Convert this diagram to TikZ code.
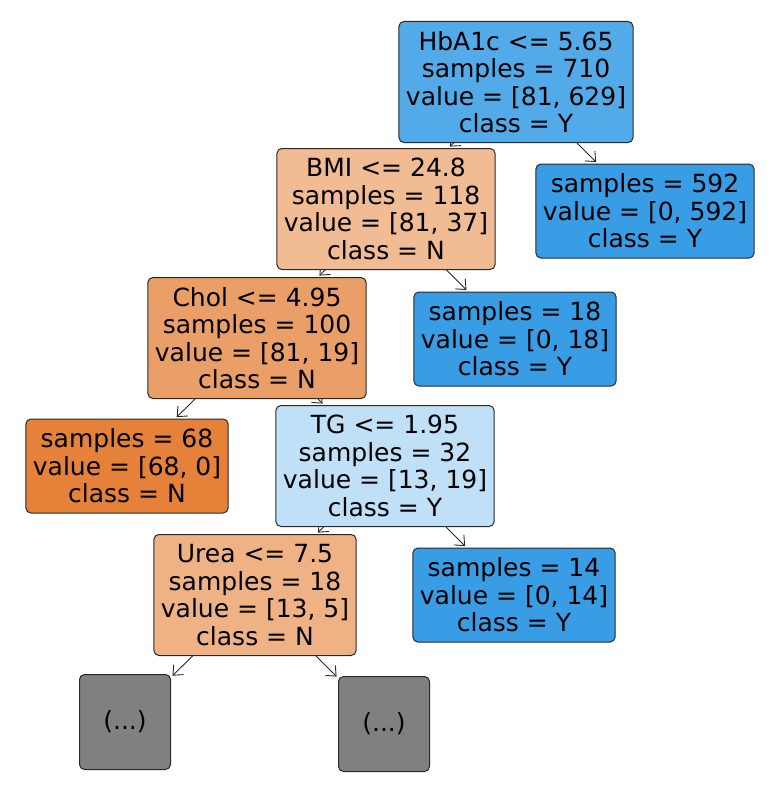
\documentclass[tikz,border=0pt]{standalone}
\usepackage{fontspec}
\setmainfont{DejaVu Sans}
\usetikzlibrary{arrows.meta,backgrounds}
\definecolor{classY}{RGB}{57,157,229}
\definecolor{classN}{RGB}{229,129,57}
\definecolor{fillHbA}{RGB}{83,170,232}
\definecolor{fillBMI}{RGB}{241,187,148}
\definecolor{fillChol}{RGB}{235,159,104}
\definecolor{fillTG}{RGB}{192,224,247}
\definecolor{fillUrea}{RGB}{239,178,133}
\definecolor{fillMore}{RGB}{128,128,128}
\definecolor{edgegray}{RGB}{40,40,40}

\begin{document}
\begin{tikzpicture}[x=1pt, y=-1pt,
    treenode/.style={draw=edgegray, line width=1pt, rounded corners=5pt, align=center, inner xsep=7pt, font=\fontsize{25}{27.5}\selectfont},
    splitnode/.style={treenode, minimum height=121pt},
    leafnode/.style={treenode, minimum height=94pt},
    morenode/.style={treenode, fill=fillMore, minimum width=91pt, minimum height=95pt},
    link/.style={draw=edgegray, line width=0.9pt, -{Straight Barb[length=8pt,width=14pt]}, shorten >=2pt}
]
\useasboundingbox (0,0) rectangle (775,792);

\node[splitnode, fill=fillHbA] (hba) at (516,82) {HbA1c <= 5.65\\samples = 710\\value = [81, 629]\\class = Y};
\node[leafnode, fill=classY] (leaf592) at (645,211) {samples = 592\\value = [0, 592]\\class = Y};
\node[splitnode, fill=fillBMI] (bmi) at (386,209) {BMI <= 24.8\\samples = 118\\value = [81, 37]\\class = N};
\node[leafnode, fill=classY] (leaf18) at (515,339) {samples = 18\\value = [0, 18]\\class = Y};
\node[splitnode, fill=fillChol] (chol) at (257,338) {Chol <= 4.95\\samples = 100\\value = [81, 19]\\class = N};
\node[leafnode, fill=classN] (leaf68) at (127,466) {samples = 68\\value = [68, 0]\\class = N};
\node[splitnode, fill=fillTG] (tg) at (385,466) {TG <= 1.95\\samples = 32\\value = [13, 19]\\class = Y};
\node[splitnode, fill=fillUrea] (urea) at (255,595) {Urea <= 7.5\\samples = 18\\value = [13, 5]\\class = N};
\node[leafnode, fill=classY] (leaf14) at (514,595) {samples = 14\\value = [0, 14]\\class = Y};
\node[morenode] (moreL) at (125,722) {(...)};
\node[morenode] (moreR) at (384,724) {(...)};

% edges go behind the boxes
\begin{scope}[on background layer]
\draw[link] (hba) -- (bmi);
\draw[link] (hba) -- (leaf592);
\draw[link] (bmi) -- (chol);
\draw[link] (bmi) -- (leaf18);
\draw[link] (chol) -- (leaf68);
\draw[link] (chol) -- (tg);
\draw[link] (tg) -- (urea);
\draw[link] (tg) -- (leaf14);
\draw[link] (urea) -- (moreL);
\draw[link] (urea) -- (moreR);
\end{scope}

\end{tikzpicture}
\end{document}
